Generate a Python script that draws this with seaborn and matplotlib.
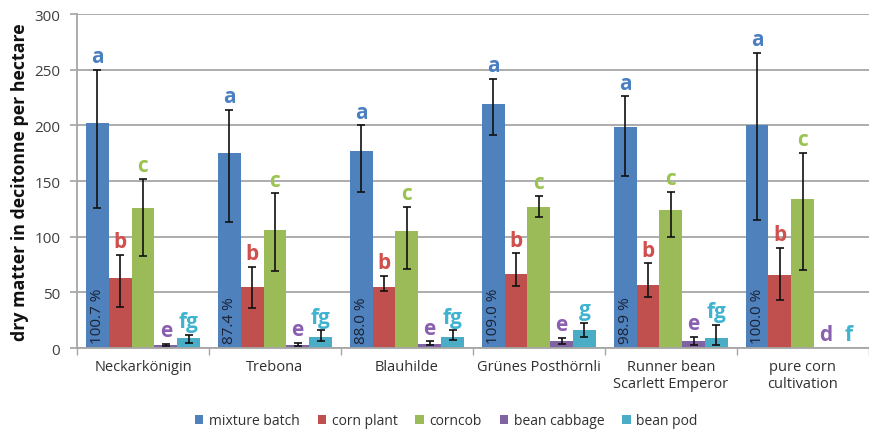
import numpy as np
import pandas as pd
import seaborn as sns
import matplotlib
matplotlib.use("Agg")
import matplotlib.pyplot as plt
from matplotlib.patches import Patch

# ---- data -------------------------------------------------------------
cultivars = ["Neckarkönigin", "Trebona", "Blauhilde", "Grünes Posthörnli",
             "Runner bean\nScarlett Emperor", "pure corn\ncultivation"]
series = ["mixture batch", "corn plant", "corncob", "bean cabbage", "bean pod"]

mixture_batch = [202, 175, 177, 219, 199, 200]
mixture_batch_lo = [126, 113, 140, 191, 155, 115]
mixture_batch_hi = [250, 214, 200, 242, 226, 265]

corn_plant = [63, 55, 55, 67, 57, 66]
corn_plant_lo = [37, 36, 51, 56, 46, 43]
corn_plant_hi = [84, 73, 65, 85, 76, 90]

corncob = [126, 106, 105, 127, 124, 134]
corncob_lo = [83, 69, 71, 118, 100, 70]
corncob_hi = [152, 139, 127, 137, 140, 175]

bean_cabbage = [3, 3, 4, 6, 6, 0]
bean_cabbage_lo = [2, 2, 3, 4, 3, np.nan]
bean_cabbage_hi = [4, 5, 6, 9, 10, np.nan]

bean_pod = [9, 10, 10, 16, 9, 0]
bean_pod_lo = [5, 6, 7, 10, 3, np.nan]
bean_pod_hi = [12, 16, 16, 23, 21, np.nan]

letters = {
    "mixture batch": ["a"] * 6,
    "corn plant": ["b"] * 6,
    "corncob": ["c"] * 6,
    "bean cabbage": ["e", "e", "e", "e", "e", "d"],
    "bean pod": ["fg", "fg", "fg", "g", "fg", "f"],
}
share_labels = ["100.7 %", "87.4 %", "88.0 %", "109.0 %", "98.9 %", "100.0 %"]

values = [mixture_batch, corn_plant, corncob, bean_cabbage, bean_pod]
lows = [mixture_batch_lo, corn_plant_lo, corncob_lo, bean_cabbage_lo, bean_pod_lo]
highs = [mixture_batch_hi, corn_plant_hi, corncob_hi, bean_cabbage_hi, bean_pod_hi]

colors = ["#4f81bd", "#c0504d", "#9bbb59", "#8064a2", "#4bacc6"]
letter_colors = ["#4a7fc1", "#d0504d", "#9bc34f", "#8a5fb0", "#3fb3cf"]

df = pd.DataFrame({
    "cultivar": np.repeat([cultivars], len(series), axis=0).ravel(),
    "fraction": np.repeat(series, len(cultivars)),
    "dm": np.concatenate(values),
})

# ---- figure -----------------------------------------------------------
sns.set_theme(style="white")
plt.rcParams["font.family"] = ["Open Sans", "DejaVu Sans"]

fig = plt.figure(figsize=(8.7, 4.31), dpi=100)
ax = fig.add_axes([0.0885, 0.19, 0.91, 0.775])

sns.barplot(data=df, x="cultivar", y="dm", hue="fraction", order=cultivars,
            hue_order=series, palette=colors, width=0.865, errorbar=None,
            saturation=1, ax=ax, legend=False, zorder=2,
            linewidth=0, edgecolor="none")

ax.set_ylim(0, 300)
ax.set_xlim(-0.5, len(cultivars) - 0.5)
ax.set_yticks(range(0, 301, 50))
ax.yaxis.grid(True, color="#a6a6a6", linewidth=1.3, zorder=0)
ax.set_axisbelow(True)

for s in ["top", "right"]:
    ax.spines[s].set_visible(False)
for s in ["left", "bottom"]:
    ax.spines[s].set_color("#a6a6a6")
    ax.spines[s].set_linewidth(1.3)

ax.tick_params(axis="y", left=True, length=5, color="#a6a6a6", labelsize=11,
               labelcolor="#404040", pad=7)
ax.tick_params(axis="x", bottom=False, length=0, labelsize=10.5,
               labelcolor="#303030", pad=8)
ax.set_xticks(np.arange(-0.5, len(cultivars)), minor=True)
ax.tick_params(axis="x", which="minor", bottom=True, length=5, color="#a6a6a6")

ax.set_xlabel("")
ax.set_ylabel("dry matter in decitonne per hectare", fontsize=12.8,
              fontweight="bold", color="#111111", labelpad=4)

# error bars, letters and shares from the drawn bars
n = len(cultivars)
bars = ax.patches
for k, name in enumerate(series):
    for i in range(n):
        bar = bars[k * n + i]
        xc = bar.get_x() + bar.get_width() / 2
        v = values[k][i]
        lo, hi = lows[k][i], highs[k][i]
        top = v
        if not np.isnan(lo):
            ax.errorbar(xc, v, yerr=[[v - lo], [hi - v]], fmt="none",
                        ecolor="#111111", elinewidth=1.2, capsize=3.2,
                        capthick=1.2, zorder=3)
            top = hi
        ax.annotate(letters[name][i], (xc, top), xytext=(0, 2),
                    textcoords="offset points", ha="center", va="bottom",
                    fontsize=15, fontweight="bold", color=letter_colors[k],
                    zorder=4)

for i in range(n):
    bar = bars[i]
    xc = bar.get_x() + bar.get_width() / 2
    ax.annotate(share_labels[i], (xc, 0), xytext=(0, 4),
                textcoords="offset points", rotation=90, ha="center",
                va="bottom", fontsize=11, color="#1a2233", zorder=4)

handles = [Patch(facecolor=c, edgecolor="none") for c in colors]
fig.legend(handles, series, loc="center", bbox_to_anchor=(0.513, 0.022),
           ncol=5, frameon=False, fontsize=10, handlelength=0.6,
           handleheight=0.6, handletextpad=0.4, columnspacing=1.3,
           labelcolor="#303030")

fig.savefig("out.png", dpi=100)
